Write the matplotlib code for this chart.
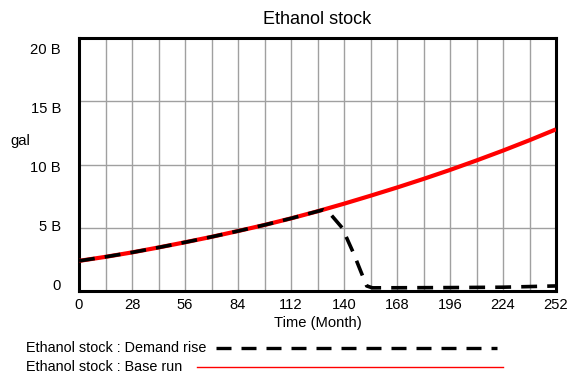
import matplotlib
matplotlib.use('Agg')
import matplotlib.pyplot as plt
from matplotlib.lines import Line2D
from matplotlib.transforms import ScaledTranslation
import numpy as np

plt.rcParams['font.family'] = ['Liberation Sans', 'DejaVu Sans']

# values (billions of gallons)
base_t = [0, 14, 28, 42, 56, 70, 84, 98, 112, 126, 140, 154, 168, 182, 196, 210, 224, 238, 252]
base_v = [2.38, 2.70, 3.05, 3.44, 3.85, 4.28, 4.74, 5.22, 5.74, 6.30, 6.90, 7.53, 8.18, 8.86,
          9.57, 10.32, 11.10, 11.92, 12.78]

demand_t = [0, 14, 28, 42, 56, 70, 84, 98, 112, 126, 129, 133, 139, 145, 149, 152, 155, 196, 224, 252]
demand_v = [2.38, 2.70, 3.05, 3.44, 3.85, 4.28, 4.74, 5.22, 5.74, 6.30, 6.42, 6.05, 5.0, 3.0,
            1.5, 0.4, 0.25, 0.27, 0.3, 0.4]

xticks = [0, 28, 56, 84, 112, 140, 168, 196, 224, 252]
yticks = [0, 5, 10, 15, 20]
ytick_labels = ['0', '5 B', '10 B', '15 B', '20 B']

fig = plt.figure(figsize=(5.69, 3.76), dpi=100)
ax = fig.add_axes([79 / 569, 1 - 291 / 376, 477 / 569, 253 / 376])

ax.plot(base_t, base_v, color='#ff0000', lw=3, solid_capstyle='butt', zorder=3)
ax.plot(demand_t, demand_v, color='black', lw=2.6, dashes=(4.4, 2.8), zorder=4)

ax.set_xlim(0, 252)
ax.set_ylim(0, 20)
ax.set_xticks(xticks)
ax.set_xticks(np.arange(14, 252, 28), minor=True)
ax.set_yticks(yticks)
ax.set_yticklabels(ytick_labels)
ax.grid(True, which='both', color='#a0a0a0', lw=1)
ax.tick_params(which='both', length=0)
ax.tick_params(axis='y', pad=13, labelsize=10.6)
ax.tick_params(axis='x', pad=5, labelsize=10.6)
for sp in ax.spines.values():
    sp.set_linewidth(2.2)

# squeeze y labels towards the middle like the original
for lab, v in zip(ax.get_yticklabels(), yticks):
    dy = (7 - 18 * v / 20) / 100
    lab.set_transform(lab.get_transform() + ScaledTranslation(0, dy, fig.dpi_scale_trans))

ax.set_title('Ethanol stock', fontsize=13, pad=10)
ax.set_xlabel('Time (Month)', fontsize=10.6, labelpad=3)
fig.text(10 / 569, 1 - 141 / 376, 'gal', fontsize=10.6, va='center', ha='left')

# legend below the chart
fig.text(26 / 569, 1 - 348 / 376, 'Ethanol stock : Demand rise', fontsize=10.4, va='center')
fig.text(26 / 569, 1 - 367 / 376, 'Ethanol stock : Base run', fontsize=10.4, va='center')
fig.add_artist(Line2D([216 / 569, 497 / 569], [1 - 348 / 376] * 2, color='black', lw=2.4,
                      dashes=(4.5, 3.0), transform=fig.transFigure))
fig.add_artist(Line2D([197 / 569, 503 / 569], [1 - 367 / 376] * 2, color='#ff0000', lw=1,
                      transform=fig.transFigure))

fig.savefig('out.png', dpi=100)
